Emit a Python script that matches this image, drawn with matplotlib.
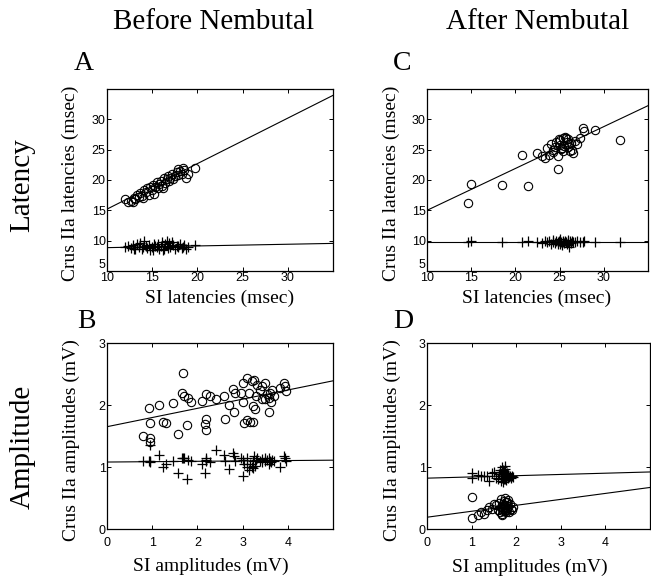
import numpy as np
import matplotlib
matplotlib.use("Agg")
import matplotlib.pyplot as plt

W, H = 651, 583
SERIF = "Liberation Serif"
SANS = "Liberation Sans"

# panel A: before nembutal, latencies (msec)
a_si = [12.0, 12.3, 12.6, 12.9, 13.0, 13.1, 13.3, 13.5, 13.7, 13.9, 14.0, 14.1, 14.3, 14.4, 14.6,
        14.8, 15.0, 15.1, 15.2, 15.3, 15.5, 15.6, 15.8, 16.0, 16.1, 16.2, 16.3, 16.4, 16.6, 16.7,
        16.9, 17.0, 17.2, 17.3, 17.5, 17.7, 17.8, 17.9, 18.1, 18.3, 18.4, 18.5, 18.7, 19.0, 19.7]
a_circ = [16.8, 16.4, 16.5, 16.3, 17.0, 16.9, 17.5, 17.2, 17.9, 17.4, 17.0, 18.3, 18.0, 18.6, 17.6,
          18.9, 18.4, 19.2, 17.7, 18.8, 19.6, 18.7, 19.3, 19.9, 19.0, 18.7, 20.3, 19.5, 20.1, 20.7,
          19.8, 20.4, 21.0, 20.2, 20.6, 21.3, 21.8, 20.8, 21.5, 21.0, 21.9, 21.7, 20.4, 21.0, 22.0]
a_cross = [8.9, 9.1, 8.8, 9.3, 8.6, 8.7, 9.4, 9.0, 9.6, 8.6, 8.9, 10.0, 9.2, 8.8, 9.3,
           8.5, 9.0, 8.4, 9.5, 9.2, 8.9, 9.5, 8.7, 9.1, 9.8, 8.5, 8.6, 9.4, 10.0, 8.8,
           9.6, 9.0, 9.7, 9.3, 8.7, 9.2, 8.9, 9.1, 9.4, 8.8, 9.0, 9.3, 8.7, 9.0, 9.3]

# panel C: after nembutal, latencies
c_si = [14.6, 15.0, 18.5, 20.7, 21.4, 22.4, 23.0, 23.4, 23.6, 23.8, 24.0, 24.2, 24.3, 24.5,
        24.6, 24.8, 24.8, 24.9, 25.0, 25.1, 25.2, 25.3, 25.4, 25.4, 25.5, 25.6, 25.7, 25.8,
        25.9, 26.0, 26.1, 26.2, 26.3, 26.4, 26.5, 26.7, 27.0, 27.3, 27.6, 27.8, 29.0, 31.8]
c_circ = [16.2, 19.4, 19.2, 24.2, 19.0, 24.4, 23.9, 23.7, 25.3, 24.2, 26.0, 25.0, 24.6, 25.5,
          26.3, 24.0, 21.8, 26.8, 25.8, 26.6, 25.1, 25.2, 26.9, 24.7, 25.6, 27.1, 27.0, 26.2,
          25.4, 26.7, 25.9, 24.8, 26.1, 25.0, 24.5, 26.4, 26.0, 26.9, 28.6, 28.0, 28.3, 26.6]
c_cross = [9.8, 9.9, 9.8, 9.7, 9.9, 9.8, 9.6, 10.0, 9.7, 9.9, 9.5, 10.1, 9.8, 9.6,
           10.0, 9.4, 9.7, 9.9, 9.5, 10.2, 9.8, 9.3, 9.7, 10.0, 9.6, 9.9, 9.8, 9.5,
           10.1, 9.7, 9.0, 9.9, 9.6, 10.0, 9.8, 9.7, 9.9, 9.8, 9.8, 9.9, 9.8, 9.8]

# panel B: before nembutal, amplitudes (mV)
b_si = [0.80, 0.92, 0.96, 0.96, 0.95, 1.14, 1.24, 1.31, 1.47, 1.57, 1.67, 1.68, 1.70, 1.78, 1.80,
        1.85, 2.10, 2.17, 2.20, 2.20, 2.20, 2.27, 2.42, 2.58, 2.62, 2.70, 2.79, 2.82, 2.83, 2.96,
        3.00, 3.00, 3.04, 3.10, 3.10, 3.14, 3.17, 3.20, 3.24, 3.24, 3.25, 3.27, 3.30, 3.32, 3.38,
        3.43, 3.43, 3.50, 3.50, 3.55, 3.58, 3.58, 3.60, 3.62, 3.65, 3.70, 3.83, 3.91, 3.94, 3.95]
b_circ = [1.50, 1.95, 1.71, 1.46, 1.40, 2.00, 1.73, 1.71, 2.04, 1.53, 2.20, 2.51, 2.14, 1.68, 2.12,
          2.05, 2.07, 1.69, 1.77, 1.60, 2.17, 2.15, 2.10, 2.15, 1.77, 2.00, 2.26, 1.89, 2.20, 2.20,
          2.05, 2.36, 1.71, 2.43, 1.76, 2.20, 1.73, 2.39, 1.72, 1.99, 2.40, 1.94, 2.15, 2.33, 2.25,
          2.30, 2.10, 2.35, 2.10, 2.18, 2.12, 1.88, 2.20, 2.05, 2.25, 2.15, 2.27, 2.35, 2.30, 2.22]
b_cross = [1.10, 1.10, 1.35, 1.10, 1.08, 1.19, 1.00, 1.05, 1.10, 0.90, 1.15, 1.15, 1.15, 0.80, 1.12,
           1.10, 1.05, 0.90, 1.10, 1.15, 1.12, 1.08, 1.27, 1.20, 1.10, 0.97, 1.22, 1.17, 1.10, 1.15,
           0.85, 1.12, 1.05, 1.00, 1.15, 0.95, 1.05, 1.00, 1.10, 0.98, 1.17, 1.02, 1.12, 1.15, 1.10,
           1.13, 1.08, 1.15, 1.10, 1.12, 1.05, 1.15, 1.10, 1.08, 1.12, 1.10, 1.00, 1.18, 1.15, 1.10]

# panel D: after nembutal, amplitudes
d_si = [1.00, 1.00, 1.15, 1.22, 1.28, 1.34, 1.38, 1.45, 1.50, 1.55, 1.60, 1.62, 1.64, 1.66, 1.67,
        1.68, 1.69, 1.70, 1.71, 1.72, 1.73, 1.74, 1.75, 1.76, 1.77, 1.78, 1.79, 1.80, 1.81, 1.82,
        1.84, 1.86, 1.88, 1.90, 1.93, 1.68, 1.72, 1.76, 1.80, 1.70]
d_circ = [0.52, 0.18, 0.22, 0.28, 0.25, 0.31, 0.35, 0.33, 0.41, 0.38, 0.30, 0.42, 0.27, 0.36, 0.48,
          0.33, 0.25, 0.40, 0.29, 0.45, 0.35, 0.31, 0.50, 0.38, 0.27, 0.43, 0.34, 0.30, 0.47, 0.37,
          0.28, 0.40, 0.33, 0.30, 0.35, 0.22, 0.38, 0.29, 0.44, 0.34]
d_cross = [0.90, 0.83, 0.87, 0.85, 0.86, 0.85, 0.77, 0.90, 0.92, 0.82, 0.80, 0.88, 0.95, 0.78, 0.85,
           1.00, 0.83, 0.90, 0.76, 0.93, 0.86, 0.81, 0.97, 0.88, 0.84, 0.79, 0.91, 0.85, 0.82, 0.87,
           0.84, 0.86, 0.83, 0.85, 0.84, 0.92, 0.80, 1.02, 0.88, 0.95]

# regression lines (intercept, slope)
a_fit_circ = [7.7, 0.75]
a_fit_cross = [8.57, 0.028]
c_fit_circ = [8.1, 0.69]
c_fit_cross = [9.7, 0.0]
b_fit_circ = [1.65, 0.148]
b_fit_cross = [1.08, 0.006]
d_fit_circ = [0.19, 0.096]
d_fit_cross = [0.82, 0.02]

lat_xticks = [10, 15, 20, 25, 30]
lat_yticks = [5, 10, 15, 20, 25, 30]
amp_xticks = [0, 1, 2, 3, 4]
amp_yticks = [0, 1, 2, 3]


def px_rect(left, top, right, bottom):
    return [left / W, 1 - bottom / H, (right - left) / W, (bottom - top) / H]


def ftext(x, y, s, size, **kw):
    fig.text(x / W, 1 - y / H, s, fontsize=size, family=SERIF, ha="center", va="center", **kw)


def panel(rect, xs, yc, yx, fit_c, fit_x, xlim, ylim, xticks, yticks, xpad):
    ax = fig.add_axes(rect)
    ax.plot(xs, yc, "o", mfc="none", mec="black", ms=6, mew=0.8)
    ax.plot(xs, yx, "+", color="black", ms=7, mew=0.9)
    xx = np.array(xlim, dtype=float)
    ax.plot(xx, fit_c[0] + fit_c[1] * xx, color="black", lw=0.8)
    ax.plot(xx, fit_x[0] + fit_x[1] * xx, color="black", lw=0.8)
    ax.set_xlim(xlim)
    ax.set_ylim(ylim)
    ax.set_xticks(xticks)
    ax.set_yticks(yticks)
    ax.tick_params(direction="in", top=True, right=True, length=3, width=0.7,
                   labelsize=9, pad=1)
    ax.tick_params(axis="x", pad=xpad)
    for lab in ax.get_xticklabels() + ax.get_yticklabels():
        lab.set_family(SANS)
    for sp in ax.spines.values():
        sp.set_linewidth(0.9)
    return ax


fig = plt.figure(figsize=(W / 100, H / 100), dpi=100)

ax_a = panel(px_rect(107, 89, 333, 271), a_si, a_circ, a_cross, a_fit_circ, a_fit_cross,
             (10, 35), (5, 35), lat_xticks, lat_yticks, 1)
ax_c = panel(px_rect(427, 89, 648, 271), c_si, c_circ, c_cross, c_fit_circ, c_fit_cross,
             (10, 35), (5, 35), lat_xticks, lat_yticks, 1)
panel(px_rect(107, 343, 333, 529), b_si, b_circ, b_cross, b_fit_circ, b_fit_cross,
      (0, 5), (0, 3), amp_xticks, amp_yticks, 6)
panel(px_rect(427, 343, 650, 529), d_si, d_circ, d_cross, d_fit_circ, d_fit_cross,
      (0, 5), (0, 3), amp_xticks, amp_yticks, 6)

# lowest latency label sits just above the corner, as in the original
for ax in (ax_a, ax_c):
    ax.get_yticklabels()[0].set_verticalalignment("bottom")

ftext(214, 22, "Before Nembutal", 21)
ftext(538, 22, "After Nembutal", 21)
ftext(84, 63, "A", 20)
ftext(402, 63, "C", 20)
ftext(86, 322, "B", 20)
ftext(403, 322, "D", 20)
ftext(22, 185, "Latency", 21, rotation=90)
ftext(23, 447, "Amplitude", 21, rotation=90)

ftext(70, 183, "Crus IIa latencies (msec)", 14, rotation=90)
ftext(391, 183, "Crus IIa latencies (msec)", 14, rotation=90)
ftext(71, 440, "Crus IIa amplitudes (mV)", 14, rotation=90)
ftext(392, 440, "Crus IIa amplitudes (mV)", 14, rotation=90)
ftext(220, 298, "SI latencies (msec)", 14)
ftext(537, 298, "SI latencies (msec)", 14)
ftext(211, 566, "SI amplitudes (mV)", 14)
ftext(530, 567, "SI amplitudes (mV)", 14)

fig.savefig("out.png", dpi=100)
